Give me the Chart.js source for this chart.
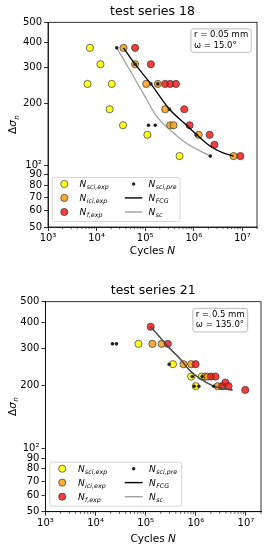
<!DOCTYPE html>
<html>
<head>
<meta charset="utf-8">
<script src="https://cdn.jsdelivr.net/npm/chart.js@4.4.0/dist/chart.umd.min.js"></script>
<style>
  html, body { margin: 0; padding: 0; background: #fff; }
  body { width: 266px; height: 550px; position: relative; overflow: hidden; }
  canvas { position: absolute; left: 0; }
  #c18 { top: 0; }
  #c21 { top: 262px; }
</style>
</head>
<body>
<canvas id="c18" width="266" height="262"></canvas>
<canvas id="c21" width="266" height="288"></canvas>
<script>
// axis ticks
const xTickValues = [1e3, 1e4, 1e5, 1e6, 1e7];
const xTickLabels = ['10³', '10⁴', '10⁵', '10⁶', '10⁷'];
const yTickValues = [50, 60, 70, 80, 90, 100, 200, 300, 400, 500];
const yTickLabels = ['50', '60', '70', '80', '90', '10²', '200', '300', '400', '500'];

// legend texts (N with subscript)
const legendSubs = ['sci,exp', 'ici,exp', 'f,exp', 'sci,pre', 'FCG', 'sc'];

// test series 18  (cycles N, stress range)
const s18SciExpN = [7.3e3, 1.2e4, 6.5e3, 2.05e4, 1.86e4, 3.5e4, 1.11e5, 5.1e5];
const s18SciExpS = [375, 312, 250, 250, 188, 157, 141, 111];
const s18IciExpN = [3.57e4, 6.2e4, 1.05e5, 1.82e5, 2.58e5, 3.27e5, 3.84e5, 1.26e6, 6.6e6];
const s18IciExpS = [375, 312, 250, 250, 188, 157, 157, 141, 111];
const s18FExpN = [6.2e4, 1.31e5, 2.58e5, 3.27e5, 4.3e5, 6.37e5, 8.2e5, 2.12e6, 2.65e6, 9.1e6];
const s18FExpS = [375, 312, 250, 250, 250, 188, 157, 141, 126, 111];
const s18SciPreN = [2.6e4, 6.2e4, 1.31e5, 1.82e5, 3.16e5, 1.17e5, 1.61e5, 1.12e6, 2.19e6];
const s18SciPreS = [375, 312, 250, 250, 188, 157, 157, 141, 111];
const s18FcgN = [3.57e4, 6.2e4, 1.31e5, 3.16e5, 6.5e5, 1.12e6, 2.19e6, 4.0e6, 6.6e6];
const s18FcgS = [375, 312, 250, 188, 160, 142, 124, 115, 111];
const s18ScN = [2.6e4, 5.3e4, 1.0e5, 1.74e5, 3.27e5, 7.2e5, 2.19e6];
const s18ScS = [375, 281, 216, 173, 149, 128, 111];

// test series 21
const s21SciExpN = [7.2e4, 3.5e5, 8.1e5, 1.32e6, 1.0e6];
const s21SciExpS = [315, 252, 220, 220, 198];
const s21IciExpN = [1.36e5, 2.08e5, 5.7e5, 8.1e5, 1.53e6, 1.73e6, 2.74e6];
const s21IciExpS = [315, 315, 252, 252, 220, 220, 198];
const s21FExpN = [1.26e5, 2.77e5, 9.9e5, 2.02e6, 2.47e6, 3.35e6, 3.9e6, 4.5e6, 9.7e6];
const s21FExpS = [380, 315, 252, 220, 220, 198, 206, 198, 190];
const s21SciPreN = [2.18e4, 2.61e4, 2.95e5, 8.5e5, 1.34e6, 9.3e5, 1.15e6, 2.28e6];
const s21SciPreS = [315, 315, 252, 220, 220, 198, 198, 198];
const s21FcgN = [1.26e5, 1.9e5, 3.0e5, 4.74e5, 7.5e5, 1.19e6, 2.18e6, 3.44e6, 5.4e6];
const s21FcgS = [380, 340, 300, 269, 236, 216, 199, 193, 190];
const s21ScN = [1.26e5, 1.9e5, 3.0e5, 4.74e5, 7.5e5, 1.19e6, 2.18e6, 3.44e6, 5.4e6];
const s21ScS = [380, 340, 300, 269, 236, 216, 199, 193, 190];

const colors = {
    sci: 'rgba(255,255,0,0.88)',
    ici: 'rgba(245,160,20,0.85)',
    f: 'rgba(242,20,20,0.82)',
    edge: '#333',
    dot: '#222',
    fcg: '#000',
    sc: 'rgba(120,120,120,0.7)'
};
const FONT = '"DejaVu Sans"';

function pts(xs, ys) {
    return xs.map((x, i) => ({ x: x, y: ys[i] }));
}

function drawSub(ctx, x, y, sub) {
    ctx.font = 'italic 9px ' + FONT;
    ctx.fillText('N', x, y);
    const w = ctx.measureText('N').width;
    ctx.font = 'italic 6.3px ' + FONT;
    ctx.fillText(sub, x + w + 0.4, y + 2.3);
}

function circle(ctx, x, y, fill) {
    ctx.beginPath();
    ctx.arc(x, y, 3.6, 0, Math.PI * 2);
    ctx.fillStyle = fill;
    ctx.fill();
    ctx.lineWidth = 0.7;
    ctx.strokeStyle = colors.edge;
    ctx.stroke();
}

const framePlugin = {
    id: 'frame',
    afterDraw(chart, args, o) {
        const ctx = chart.ctx, a = chart.chartArea, xs = chart.scales.x;
        const w = a.right - a.left, h = a.bottom - a.top;
        ctx.save();
        ctx.strokeStyle = '#000';
        ctx.lineWidth = 0.8;
        ctx.strokeRect(a.left, a.top, w, h);

        // minor ticks on x
        ctx.beginPath();
        for (let d = 3; d <= 7; d++) {
            for (let k = 2; k <= 9; k++) {
                const v = k * Math.pow(10, d);
                if (v > xs.max) break;
                const px = xs.getPixelForValue(v);
                ctx.moveTo(px, a.bottom);
                ctx.lineTo(px, a.bottom + 2.2);
            }
        }
        ctx.lineWidth = 0.6;
        ctx.stroke();

        ctx.fillStyle = '#000';
        // title
        ctx.font = '12.5px ' + FONT;
        ctx.textAlign = 'center';
        ctx.textBaseline = 'middle';
        ctx.fillText(o.title, (a.left + a.right) / 2, a.top - 11);

        // x label
        ctx.textAlign = 'left';
        ctx.textBaseline = 'middle';
        ctx.font = '10.5px ' + FONT;
        const t1 = 'Cycles ';
        const w1 = ctx.measureText(t1).width;
        ctx.font = 'italic 10.5px ' + FONT;
        const w2 = ctx.measureText('N').width;
        const x0 = (a.left + a.right) / 2 - (w1 + w2) / 2;
        const ly = a.bottom + o.labelGap;
        ctx.font = '10.5px ' + FONT;
        ctx.fillText(t1, x0, ly);
        ctx.font = 'italic 10.5px ' + FONT;
        ctx.fillText('N', x0 + w1, ly);

        // y label
        ctx.save();
        ctx.translate(o.yLabelX, (a.top + a.bottom) / 2);
        ctx.rotate(-Math.PI / 2);
        ctx.textBaseline = 'alphabetic';
        ctx.font = '10.5px ' + FONT;
        const d1 = ctx.measureText('Δ').width;
        ctx.font = 'italic 10.5px ' + FONT;
        const d2 = ctx.measureText('σ').width;
        ctx.font = 'italic 7.3px ' + FONT;
        const d3 = ctx.measureText('n').width;
        let yx = -(d1 + d2 + d3) / 2;
        ctx.font = '10.5px ' + FONT;
        ctx.fillText('Δ', yx, 3.5);
        ctx.font = 'italic 10.5px ' + FONT;
        ctx.fillText('σ', yx + d1, 3.5);
        ctx.font = 'italic 7.3px ' + FONT;
        ctx.fillText('n', yx + d1 + d2 + 0.3, 6.2);
        ctx.restore();

        // note box
        ctx.font = '8.5px ' + FONT;
        const nw = Math.max(...o.note.map(t => ctx.measureText(t).width)) + 6;
        const bx = a.left + 0.684 * w, by = a.top + 0.032 * h, bh = 23.5;
        ctx.beginPath();
        ctx.roundRect(bx, by, nw, bh, 2.5);
        ctx.fillStyle = '#fff';
        ctx.fill();
        ctx.strokeStyle = '#aaa';
        ctx.lineWidth = 0.8;
        ctx.stroke();
        ctx.fillStyle = '#000';
        ctx.textBaseline = 'middle';
        ctx.fillText(o.note[0], bx + 3, by + 6.3);
        ctx.fillText(o.note[1], bx + 3, by + 16.8);

        // legend
        const lx = a.left + 0.02 * w, lr = a.left + 0.632 * w;
        const lb = a.bottom - 5.5, lt = lb - 44;
        ctx.beginPath();
        ctx.roundRect(lx, lt, lr - lx, lb - lt, 2);
        ctx.fillStyle = 'rgba(255,255,255,0.8)';
        ctx.fill();
        ctx.strokeStyle = '#ccc';
        ctx.lineWidth = 0.8;
        ctx.stroke();
        const rows = [lb - 37.5, lb - 23.6, lb - 9.5];
        const fills = [colors.sci, colors.ici, colors.f];
        const c1 = a.left + 0.078 * w, t1x = a.left + 0.151 * w;
        const l0 = a.left + 0.368 * w, l1 = a.left + 0.451 * w, t2x = a.left + 0.481 * w;
        for (let i = 0; i < 3; i++) {
            circle(ctx, c1, rows[i], fills[i]);
        }
        ctx.beginPath();
        ctx.arc((l0 + l1) / 2, rows[0], 1.7, 0, Math.PI * 2);
        ctx.fillStyle = colors.dot;
        ctx.fill();
        ctx.lineWidth = 1.4;
        ctx.strokeStyle = colors.fcg;
        ctx.beginPath(); ctx.moveTo(l0, rows[1]); ctx.lineTo(l1, rows[1]); ctx.stroke();
        ctx.strokeStyle = colors.sc;
        ctx.beginPath(); ctx.moveTo(l0, rows[2]); ctx.lineTo(l1, rows[2]); ctx.stroke();
        ctx.fillStyle = '#000';
        ctx.textAlign = 'left';
        ctx.textBaseline = 'alphabetic';
        for (let i = 0; i < 3; i++) {
            drawSub(ctx, t1x, rows[i] + 3, legendSubs[i]);
            drawSub(ctx, t2x, rows[i] + 3, legendSubs[i + 3]);
        }
        ctx.restore();
    }
};

function buildChart(id, d, o) {
    const canvas = document.getElementById(id);
    const area = o.area;
    const scatter = (data, color, order) => ({
        data: data, backgroundColor: color, borderColor: colors.edge,
        borderWidth: 0.7, pointRadius: 3.6, order: order
    });
    const line = (data, color, order) => ({
        data: data, showLine: true, borderColor: color, borderWidth: 1.3,
        pointRadius: 0, fill: false, cubicInterpolationMode: 'monotone', order: order
    });
    return new Chart(canvas.getContext('2d'), {
        type: 'scatter',
        data: {
            datasets: [
                scatter(pts(d.sciExpN, d.sciExpS), colors.sci, 6),
                scatter(pts(d.iciExpN, d.iciExpS), colors.ici, 5),
                scatter(pts(d.fExpN, d.fExpS), colors.f, 4),
                line(pts(d.fcgN, d.fcgS), colors.fcg, 3),
                line(pts(d.scN, d.scS), colors.sc, 2),
                {
                    data: pts(d.sciPreN, d.sciPreS), backgroundColor: colors.dot,
                    borderWidth: 0, pointRadius: 1.8, order: 1
                }
            ]
        },
        options: {
            responsive: false,
            animation: false,
            devicePixelRatio: 1,
            layout: {
                padding: { top: area.top, right: canvas.width - area.right, left: 0, bottom: 0 }
            },
            plugins: {
                legend: { display: false },
                tooltip: { enabled: false },
                frame: o
            },
            scales: {
                x: {
                    type: 'logarithmic',
                    min: 1e3,
                    max: 2e7,
                    afterBuildTicks: s => { s.ticks = xTickValues.map(v => ({ value: v })); },
                    afterFit: s => { s.height = canvas.height - area.bottom; },
                    ticks: {
                        autoSkip: false, maxRotation: 0, padding: o.tickPad,
                        color: '#000', font: { family: 'DejaVu Sans', size: 10 },
                        callback: (v, i) => xTickLabels[i]
                    },
                    grid: { drawOnChartArea: false, tickLength: 4, color: '#000', lineWidth: 0.8 },
                    border: { color: '#000', width: 0.8 }
                },
                y: {
                    type: 'logarithmic',
                    min: 50,
                    max: 500,
                    afterBuildTicks: s => { s.ticks = yTickValues.map(v => ({ value: v })); },
                    afterFit: s => { s.width = area.left; },
                    ticks: {
                        autoSkip: false, padding: 2,
                        color: '#000', font: { family: 'DejaVu Sans', size: 10 },
                        callback: (v, i) => yTickLabels[i]
                    },
                    grid: { drawOnChartArea: false, tickLength: 4, color: '#000', lineWidth: 0.8 },
                    border: { color: '#000', width: 0.8 }
                }
            }
        },
        plugins: [framePlugin]
    });
}

buildChart('c18', {
    sciExpN: s18SciExpN, sciExpS: s18SciExpS,
    iciExpN: s18IciExpN, iciExpS: s18IciExpS,
    fExpN: s18FExpN, fExpS: s18FExpS,
    sciPreN: s18SciPreN, sciPreS: s18SciPreS,
    fcgN: s18FcgN, fcgS: s18FcgS,
    scN: s18ScN, scS: s18ScS
}, {
    title: 'test series 18',
    note: ['r = 0.05 mm', 'ω = 15.0°'],
    area: { left: 48, right: 257, top: 22.3, bottom: 227 },
    tickPad: 1, labelGap: 24.5, yLabelX: 12.5
});

buildChart('c21', {
    sciExpN: s21SciExpN, sciExpS: s21SciExpS,
    iciExpN: s21IciExpN, iciExpS: s21IciExpS,
    fExpN: s21FExpN, fExpS: s21FExpS,
    sciPreN: s21SciPreN, sciPreS: s21SciPreS,
    fcgN: s21FcgN, fcgS: s21FcgS,
    scN: s21ScN, scS: s21ScS
}, {
    title: 'test series 21',
    note: ['r = 0.5 mm', 'ω = 135.0°'],
    area: { left: 45.4, right: 261, top: 39.7, bottom: 249.7 },
    tickPad: 2, labelGap: 28, yLabelX: 12
});
</script>
</body>
</html>
